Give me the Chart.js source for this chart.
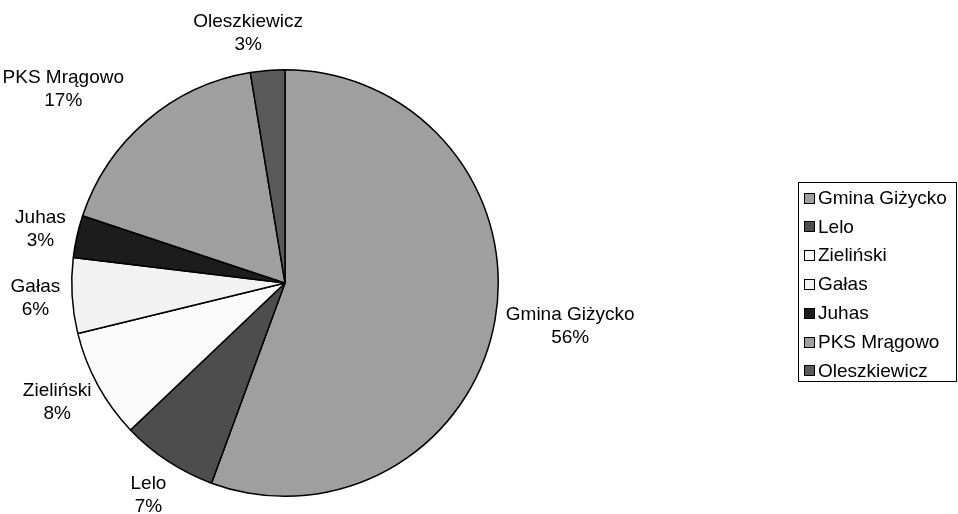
<!DOCTYPE html>
<html>
<head>
<meta charset="utf-8">
<script src="https://cdn.jsdelivr.net/npm/chart.js@4"></script>
<style>
  html, body { margin: 0; padding: 0; background: #fff; }
  #wrap { width: 958px; height: 514px; position: relative; }
</style>
</head>
<body>
<div id="wrap"><canvas id="pieChart"></canvas></div>
<script>
// data (share of total, %)
const categories = ['Gmina Giżycko', 'Lelo', 'Zieliński', 'Gałas', 'Juhas', 'PKS Mrągowo', 'Oleszkiewicz'];
const shares = [55.6, 7.3, 8.3, 5.7, 3.2, 17.3, 2.6];
const sliceColors = ['#9f9f9f', '#4d4d4d', '#fbfbfb', '#f2f2f2', '#1c1c1c', '#9f9f9f', '#5a5a5a'];

const FONT = '19px "Liberation Sans", Arial, sans-serif';
const LINE_H = 23;

// outside labels: name + rounded percent
const outsideLabels = {
  id: 'outsideLabels',
  afterDatasetsDraw(chart) {
    const ctx = chart.ctx;
    const meta = chart.getDatasetMeta(0);
    const total = shares.reduce((a, b) => a + b, 0);
    // small hand tweaks so the labels sit where the original put them
    const nudge = { 1: [-3, 5], 5: [-36, -5], 6: [-14, -2] };
    ctx.save();
    ctx.font = FONT;
    ctx.fillStyle = '#000';
    ctx.textAlign = 'center';
    ctx.textBaseline = 'middle';
    meta.data.forEach((arc, i) => {
      const p = arc.getProps(['x', 'y', 'startAngle', 'endAngle', 'outerRadius'], true);
      const mid = (p.startAngle + p.endAngle) / 2;
      const dx = Math.cos(mid), dy = Math.sin(mid);
      const lines = [categories[i], Math.round(shares[i] / total * 100) + '%'];
      const w = Math.max(...lines.map(t => ctx.measureText(t).width));
      const h = lines.length * LINE_H;
      const r = p.outerRadius + 12;
      const [nx, ny] = nudge[i] || [0, 0];
      const cx = p.x + dx * r + dx * w / 2 + nx;
      const cy = p.y + dy * r + dy * h / 2 + ny;
      lines.forEach((t, k) => {
        ctx.fillText(t, cx, cy - h / 2 + LINE_H / 2 + k * LINE_H);
      });
    });
    ctx.restore();
  }
};

// boxed legend on the right
const boxLegend = {
  id: 'boxLegend',
  afterDraw(chart) {
    const ctx = chart.ctx;
    const left = 798, top = 182, width = 159, height = 199;
    const step = 28.8, firstY = 197.5;
    ctx.save();
    ctx.strokeStyle = '#000';
    ctx.lineWidth = 1;
    ctx.strokeRect(left + 0.5, top + 0.5, width - 1, height);
    ctx.font = FONT;
    ctx.textAlign = 'left';
    ctx.textBaseline = 'middle';
    categories.forEach((name, i) => {
      const y = firstY + i * step;
      ctx.fillStyle = sliceColors[i];
      ctx.fillRect(804.5, Math.round(y - 5) + 0.5, 10, 10);
      ctx.strokeRect(804.5, Math.round(y - 5) + 0.5, 10, 10);
      ctx.fillStyle = '#000';
      ctx.fillText(name, 818, y + 1);
    });
    ctx.restore();
  }
};

const ctx = document.getElementById('pieChart').getContext('2d');
const pieChart = new Chart(ctx, {
  type: 'pie',
  data: {
    labels: categories,
    datasets: [{
      data: shares,
      backgroundColor: sliceColors,
      borderColor: '#000',
      borderWidth: 1.5
    }]
  },
  options: {
    responsive: true,
    maintainAspectRatio: false,
    animation: false,
    layout: {
      padding: { left: 71, right: 459, top: 69, bottom: 17 }
    },
    plugins: {
      legend: { display: false },
      tooltip: { enabled: false }
    }
  },
  plugins: [outsideLabels, boxLegend]
});
</script>
</body>
</html>
